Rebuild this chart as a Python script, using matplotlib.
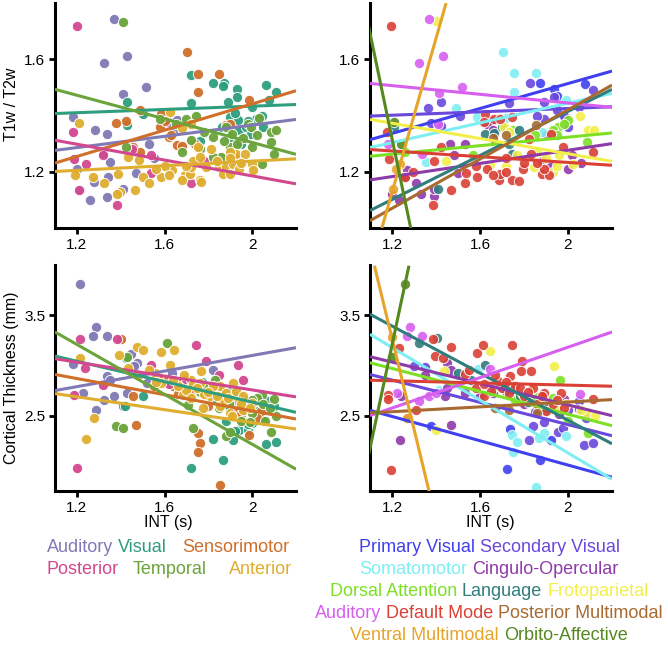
import matplotlib
matplotlib.use("Agg")
import matplotlib.pyplot as plt
import numpy as np

plt.rcParams['font.family'] = ['Liberation Sans', 'DejaVu Sans']

# ---------------- data: left panels (6 cortical groups) ----------------
GROUPS6 = ["Auditory", "Visual", "Sensorimotor", "Posterior", "Temporal", "Anterior"]
COL6 = {"Auditory": "#8079b5", "Visual": "#2e9e7e", "Sensorimotor": "#cf6f2a",
        "Posterior": "#d2488f", "Temporal": "#6aa43a", "Anterior": "#e0ae2f"}

# T1w/T2w vs INT
t1_aud_x = [1.37, 1.324, 1.427, 1.409, 1.514, 1.18, 1.283, 1.336, 1.32, 1.35, 1.344, 1.28, 1.215, 1.26, 1.336, 1.409, 1.468, 1.53, 1.617, 1.64, 1.655, 1.91, 1.55, 1.2]
t1_aud_y = [1.743, 1.586, 1.612, 1.475, 1.50, 1.393, 1.348, 1.336, 1.267, 1.235, 1.181, 1.163, 1.136, 1.10, 1.112, 1.139, 1.195, 1.298, 1.377, 1.342, 1.383, 1.24, 1.25, 1.21]
t1_vis_x = [1.723, 1.82, 1.873, 1.868, 1.93, 1.93, 2.064, 2.109, 1.723, 1.89, 1.427, 1.427, 1.503, 1.897, 1.935, 1.94, 1.97, 1.995, 2.017, 2.047, 2.076, 1.897, 1.95, 2.0, 1.76, 1.86, 1.98, 2.05, 1.92]
t1_vis_y = [1.544, 1.517, 1.514, 1.505, 1.493, 1.467, 1.508, 1.485, 1.443, 1.449, 1.449, 1.365, 1.405, 1.395, 1.383, 1.348, 1.36, 1.336, 1.389, 1.40, 1.455, 1.324, 1.30, 1.43, 1.31, 1.36, 1.38, 1.36, 1.41]
t1_sen_x = [1.703, 1.753, 1.848, 1.752, 1.985, 1.488, 1.424, 1.379, 1.455, 1.586, 1.579, 1.62, 1.655, 1.68, 1.88, 1.488, 1.63, 1.74, 1.9, 1.6]
t1_sen_y = [1.627, 1.548, 1.548, 1.485, 1.455, 1.419, 1.381, 1.374, 1.288, 1.405, 1.36, 1.324, 1.294, 1.29, 1.365, 1.27, 1.33, 1.30, 1.37, 1.38]
t1_pos_x = [1.2, 1.185, 1.18, 1.24, 1.21, 1.385, 1.32, 1.54, 1.54, 1.927, 1.94, 1.78, 1.72, 1.45]
t1_pos_y = [1.717, 1.246, 1.34, 1.226, 1.136, 1.083, 1.26, 1.195, 1.26, 1.252, 1.23, 1.24, 1.16, 1.28]
t1_tem_x = [1.409, 1.424, 1.579, 1.70, 1.745, 1.723, 1.68, 1.82, 1.88, 1.91, 1.98, 1.995, 2.085, 2.109, 2.085, 2.1, 2.047, 2.0, 1.897, 1.859, 1.82, 1.96, 1.78, 1.65, 2.03, 1.93, 2.02, 1.87, 1.76]
t1_tem_y = [1.731, 1.288, 1.386, 1.389, 1.40, 1.312, 1.27, 1.324, 1.36, 1.336, 1.371, 1.36, 1.342, 1.348, 1.306, 1.264, 1.229, 1.288, 1.288, 1.252, 1.252, 1.32, 1.34, 1.37, 1.39, 1.30, 1.33, 1.31, 1.28]
t1_ant_x = [1.208, 1.192, 1.273, 1.324, 1.389, 1.397, 1.385, 1.467, 1.435, 1.482, 1.5, 1.53, 1.586, 1.632, 1.626, 1.692, 1.68, 1.715, 1.723, 1.73, 1.753, 1.76, 1.767, 1.79, 1.812, 1.85, 1.865, 1.88, 1.897, 1.912, 1.927, 1.965, 2.0, 2.003, 1.897, 1.76, 1.723, 1.68, 1.6, 1.94, 1.84, 1.90, 1.95, 1.70, 1.62, 1.56]
t1_ant_y = [1.374, 1.19, 1.181, 1.16, 1.193, 1.127, 1.121, 1.136, 1.252, 1.243, 1.181, 1.16, 1.183, 1.205, 1.414, 1.187, 1.169, 1.193, 1.217, 1.24, 1.288, 1.169, 1.163, 1.217, 1.282, 1.217, 1.193, 1.217, 1.193, 1.229, 1.264, 1.264, 1.229, 1.207, 1.27, 1.252, 1.37, 1.354, 1.22, 1.21, 1.24, 1.25, 1.23, 1.22, 1.19, 1.21]

# Cortical thickness vs INT
ct_aud_x = [1.215, 1.288, 1.273, 1.336, 1.182, 1.227, 1.37, 1.288, 1.324, 1.336, 1.412, 1.427, 1.445, 1.473, 1.518, 1.632, 1.82, 1.35, 1.46]
ct_aud_y = [3.81, 3.387, 3.293, 3.293, 3.01, 2.727, 2.693, 2.56, 2.653, 2.893, 2.6, 2.727, 3.11, 3.027, 2.827, 2.927, 2.953, 2.86, 2.99]
ct_vis_x = [1.424, 1.5, 1.42, 1.723, 1.867, 1.821, 1.912, 1.942, 1.979, 2.064, 2.109, 2.0, 2.047, 1.88, 1.888, 2.04, 1.96, 1.92, 2.07, 1.98, 1.93, 1.84, 1.84, 1.90, 1.97, 2.02, 2.10, 1.77]
ct_vis_y = [3.077, 2.693, 2.593, 1.983, 2.06, 2.267, 2.26, 2.36, 2.353, 2.22, 2.233, 2.427, 2.46, 2.443, 2.61, 2.59, 2.45, 2.35, 2.65, 2.42, 2.62, 2.66, 2.80, 2.74, 2.66, 2.55, 2.60, 2.84]
ct_sen_x = [1.4, 1.47, 1.458, 1.852, 1.76, 1.753, 1.753, 1.985, 1.64, 1.60, 1.57, 1.68, 1.55, 1.93, 1.72, 1.88, 1.98, 2.04, 1.80, 1.86, 1.95, 2.02, 1.66]
ct_sen_y = [3.267, 2.41, 2.693, 1.81, 2.227, 2.327, 2.143, 2.31, 2.793, 2.85, 2.88, 2.83, 2.80, 2.55, 2.75, 2.70, 2.60, 2.55, 2.60, 2.64, 2.52, 2.48, 2.72]
ct_pos_x = [1.2, 1.212, 1.185, 1.238, 1.321, 1.382, 1.536, 1.745, 1.791, 1.935, 1.958, 1.62, 1.70, 1.85]
ct_pos_y = [1.977, 3.26, 2.71, 2.977, 2.81, 3.267, 3.0, 3.2, 3.043, 3.0, 2.86, 2.82, 2.87, 2.90]
ct_tem_x = [1.609, 1.379, 1.409, 1.708, 1.73, 1.88, 1.897, 2.086, 2.1, 2.109, 2.047, 2.0, 1.806, 1.95, 1.94, 1.99, 2.06, 1.85, 1.43, 1.76, 1.90, 2.02, 1.78, 1.86, 1.92, 2.0, 2.05, 2.08, 1.83, 1.74]
ct_tem_y = [3.22, 2.4, 2.377, 2.61, 2.377, 2.293, 2.333, 2.333, 2.667, 2.493, 2.71, 2.527, 2.793, 2.45, 2.70, 2.44, 2.45, 2.58, 3.08, 2.74, 2.64, 2.68, 2.78, 2.74, 2.70, 2.66, 2.62, 2.58, 2.86, 2.82]
ct_ant_x = [1.242, 1.279, 1.212, 1.394, 1.473, 1.5, 1.586, 1.642, 1.435, 1.556, 1.586, 1.627, 1.685, 1.723, 1.73, 1.768, 1.76, 1.776, 1.806, 1.852, 1.852, 1.88, 1.912, 1.927, 1.897, 1.91, 1.958, 2.0, 1.96, 1.70, 1.82, 1.66, 1.48, 1.53, 1.78, 1.87, 1.94, 1.75, 1.80, 1.84, 1.89, 1.95, 1.99, 1.72, 1.64, 1.69, 1.56]
ct_ant_y = [2.267, 2.477, 3.077, 3.1, 3.187, 3.153, 3.133, 3.153, 2.977, 2.927, 2.827, 3.0, 2.71, 2.86, 2.82, 2.943, 2.83, 2.577, 2.693, 2.793, 2.593, 2.727, 2.827, 2.743, 2.527, 2.50, 2.693, 2.627, 2.56, 2.76, 2.80, 2.80, 2.90, 2.95, 2.72, 2.66, 2.64, 2.78, 2.74, 2.70, 2.68, 2.62, 2.58, 2.68, 2.86, 2.90, 2.84]

# fitted lines of the left panels: value at INT = 1.1 and INT = 2.2
t1_fit6_start = [1.276, 1.407, 1.231, 1.312, 1.493, 1.201]
t1_fit6_end = [1.386, 1.439, 1.488, 1.157, 1.262, 1.246]
ct_fit6_start = [2.75, 3.093, 2.91, 3.067, 3.333, 2.72]
ct_fit6_end = [3.177, 2.533, 2.467, 2.687, 1.967, 2.367]

# ---------------- data: right panels (12 networks) ----------------
NETS = ["Primary Visual", "Secondary Visual", "Somatomotor", "Cingulo-Opercular",
        "Dorsal Attention", "Language", "Frotoparietal", "Auditory", "Default Mode",
        "Posterior Multimodal", "Ventral Multimodal", "Orbito-Affective"]
COL12 = {"Primary Visual": "#4040f0", "Secondary Visual": "#6a48dc", "Somatomotor": "#7eeef2",
         "Cingulo-Opercular": "#8e3aa8", "Dorsal Attention": "#7de024", "Language": "#2f7d7d",
         "Frotoparietal": "#f2ef4a", "Auditory": "#d75ff0", "Default Mode": "#db4035",
         "Posterior Multimodal": "#a86a30", "Ventral Multimodal": "#e6a52a", "Orbito-Affective": "#55881f"}

t1n_x = {
    "Primary Visual": [1.874, 1.938, 2.077, 1.95],
    "Secondary Visual": [1.828, 1.938, 2.115, 1.731, 1.892, 1.362, 1.423, 1.377, 1.423, 1.508, 1.985, 1.892, 1.95, 2.05, 1.65, 1.90, 2.0, 1.98, 1.86],
    "Somatomotor": [1.705, 1.754, 1.854, 1.754, 1.992, 1.489, 1.585, 1.354, 1.88, 1.72],
    "Cingulo-Opercular": [1.269, 1.26, 1.33, 1.31, 1.392, 1.462, 1.5, 1.531, 1.48, 1.63, 1.66, 1.92, 2.06, 2.0, 1.2, 1.23, 1.39, 1.88, 2.02],
    "Dorsal Attention": [1.954, 2.0, 1.98, 2.085, 1.75, 1.85, 1.93, 1.26, 1.57, 1.95],
    "Language": [1.623, 1.662, 1.777, 1.746, 1.408, 1.70, 1.73, 1.21],
    "Frotoparietal": [1.4, 1.708, 1.73, 1.846, 1.93, 2.023, 2.092, 2.12, 2.054, 1.446, 1.646, 1.96, 1.86, 1.72, 1.77, 1.90, 1.95],
    "Auditory": [1.369, 1.323, 1.431, 1.412, 1.518, 1.338, 1.18, 1.41],
    "Default Mode": [1.197, 1.177, 1.185, 1.26, 1.295, 1.385, 1.392, 1.469, 1.531, 1.538, 1.585, 1.631, 1.685, 1.692, 1.746, 1.777, 1.797, 1.831, 1.88, 1.915, 1.892, 1.923, 1.977, 2.115, 1.623, 1.618, 1.662, 1.69, 1.746, 1.423, 1.823, 1.72, 1.86, 1.72, 1.80, 1.66, 1.58],
    "Posterior Multimodal": [1.854, 1.66, 1.72],
    "Ventral Multimodal": [1.203, 1.238, 1.22],
    "Orbito-Affective": [1.208, 1.24],
}
t1n_y = {
    "Primary Visual": [1.517, 1.493, 1.512, 1.47],
    "Secondary Visual": [1.517, 1.467, 1.49, 1.445, 1.449, 1.425, 1.449, 1.374, 1.362, 1.40, 1.389, 1.386, 1.42, 1.43, 1.38, 1.33, 1.36, 1.40, 1.40],
    "Somatomotor": [1.627, 1.55, 1.55, 1.485, 1.455, 1.425, 1.395, 1.235, 1.34, 1.39],
    "Cingulo-Opercular": [1.205, 1.18, 1.121, 1.16, 1.115, 1.30, 1.195, 1.30, 1.26, 1.37, 1.35, 1.22, 1.23, 1.21, 1.12, 1.10, 1.14, 1.24, 1.26],
    "Dorsal Attention": [1.36, 1.383, 1.37, 1.306, 1.35, 1.33, 1.35, 1.27, 1.26, 1.33],
    "Language": [1.336, 1.338, 1.348, 1.264, 1.139, 1.36, 1.30, 1.36],
    "Frotoparietal": [1.735, 1.36, 1.34, 1.217, 1.199, 1.229, 1.348, 1.35, 1.399, 1.24, 1.223, 1.26, 1.27, 1.22, 1.26, 1.25, 1.22],
    "Auditory": [1.743, 1.588, 1.612, 1.479, 1.502, 1.262, 1.30, 1.37],
    "Default Mode": [1.717, 1.342, 1.246, 1.181, 1.199, 1.083, 1.24, 1.136, 1.16, 1.195, 1.181, 1.211, 1.171, 1.193, 1.169, 1.167, 1.211, 1.264, 1.193, 1.187, 1.211, 1.336, 1.288, 1.27, 1.407, 1.377, 1.386, 1.389, 1.395, 1.288, 1.318, 1.25, 1.23, 1.20, 1.23, 1.19, 1.22],
    "Posterior Multimodal": [1.365, 1.32, 1.33],
    "Ventral Multimodal": [1.139, 1.229, 1.21],
    "Orbito-Affective": [1.377, 1.30],
}

ctn_x = {
    "Primary Visual": [1.723, 1.738, 1.874, 1.377, 1.923],
    "Secondary Visual": [1.823, 1.954, 2.074, 2.115, 1.892, 1.977, 1.84, 2.05, 1.30, 1.35, 1.85, 2.0, 2.08],
    "Somatomotor": [1.415, 1.592, 1.746, 1.751, 1.769, 1.854, 1.869, 1.892, 1.992, 1.50],
    "Cingulo-Opercular": [1.469, 1.238, 1.45, 1.47, 1.44, 1.53, 1.35, 1.60, 1.66, 1.98, 2.05, 1.45, 1.24, 1.74, 1.80, 1.90, 1.96],
    "Dorsal Attention": [1.962, 2.092, 2.0, 1.96, 1.76, 1.85, 1.88, 1.93],
    "Language": [1.403, 1.323, 1.5, 1.623, 1.72, 1.78, 1.56, 1.90, 1.82, 1.68],
    "Frotoparietal": [1.646, 1.938, 1.4, 1.438, 2.085, 2.123, 1.88, 1.95, 1.79, 1.83, 1.99, 2.06],
    "Auditory": [1.28, 1.269, 1.338, 1.223, 1.369, 1.323, 1.646, 2.054, 1.40],
    "Default Mode": [1.197, 1.182, 1.18, 1.231, 1.385, 1.397, 1.431, 1.469, 1.531, 1.585, 1.615, 1.746, 1.792, 1.785, 1.831, 1.738, 1.892, 1.969, 2.115, 1.311, 1.274, 1.62, 1.70, 1.68, 1.76, 1.80, 1.86, 1.90, 1.65, 1.73, 1.84, 1.55, 1.93, 1.58, 1.62, 1.67, 1.72, 1.78, 1.82, 1.88, 1.95, 1.98],
    "Posterior Multimodal": [1.73, 1.86, 1.67],
    "Ventral Multimodal": [1.20, 1.27],
    "Orbito-Affective": [1.258, 1.20],
}
ctn_y = {
    "Primary Visual": [1.973, 2.367, 2.06, 2.393, 2.253],
    "Secondary Visual": [2.26, 2.333, 2.21, 2.227, 2.433, 2.377, 2.40, 2.65, 2.99, 2.98, 2.54, 2.56, 2.48],
    "Somatomotor": [2.76, 2.96, 2.31, 2.143, 2.233, 1.793, 2.277, 2.327, 2.293, 2.90],
    "Cingulo-Opercular": [2.403, 2.26, 3.02, 2.95, 2.70, 2.73, 2.90, 2.70, 2.73, 2.67, 2.57, 2.78, 2.70, 2.76, 2.62, 2.56, 2.52],
    "Dorsal Attention": [2.853, 2.327, 2.443, 2.62, 2.66, 2.69, 2.60, 2.68],
    "Language": [3.277, 3.227, 2.927, 3.0, 2.75, 2.70, 2.86, 2.58, 2.64, 2.80],
    "Frotoparietal": [3.143, 2.993, 2.36, 2.943, 2.527, 2.493, 2.66, 2.57, 2.73, 2.76, 2.62, 2.56],
    "Auditory": [3.387, 3.293, 3.293, 2.727, 2.693, 2.643, 2.96, 2.72, 2.73],
    "Default Mode": [1.96, 2.71, 2.67, 3.177, 3.267, 3.093, 3.077, 3.187, 2.91, 3.127, 3.2, 3.2, 3.043, 2.943, 2.943, 2.893, 2.727, 2.727, 2.667, 2.553, 2.477, 2.70, 2.78, 2.85, 2.80, 2.70, 2.62, 2.55, 2.75, 2.73, 2.78, 2.95, 2.62, 2.78, 2.82, 2.90, 2.84, 2.78, 2.74, 2.70, 2.66, 2.58],
    "Posterior Multimodal": [2.56, 2.53, 2.58],
    "Ventral Multimodal": [3.28, 2.48],
    "Orbito-Affective": [3.81, 3.08],
}

# fitted lines of the right panels: (x0, y0, x1, y1) endpoints
t1_fit12 = {
    "Primary Visual": (1.1, 1.314, 2.2, 1.558),
    "Secondary Visual": (1.1, 1.398, 2.2, 1.431),
    "Somatomotor": (1.1, 1.286, 2.2, 1.479),
    "Cingulo-Opercular": (1.1, 1.171, 2.2, 1.30),
    "Dorsal Attention": (1.1, 1.255, 2.2, 1.338),
    "Language": (1.1, 1.062, 2.2, 1.493),
    "Frotoparietal": (1.1, 1.386, 2.2, 1.237),
    "Auditory": (1.1, 1.514, 2.2, 1.429),
    "Default Mode": (1.1, 1.279, 2.2, 1.223),
    "Posterior Multimodal": (1.1, 1.026, 2.2, 1.508),
    "Ventral Multimodal": (1.154, 1.0, 1.446, 1.8),
    "Orbito-Affective": (1.092, 1.723, 1.285, 1.0),
}
ct_fit12 = {
    "Primary Visual": (1.1, 2.553, 2.2, 1.887),
    "Secondary Visual": (1.1, 2.91, 2.2, 2.30),
    "Somatomotor": (1.1, 3.31, 2.2, 1.867),
    "Cingulo-Opercular": (1.1, 3.087, 2.2, 2.50),
    "Dorsal Attention": (1.1, 3.027, 2.2, 2.40),
    "Language": (1.1, 3.51, 2.2, 2.22),
    "Frotoparietal": (1.1, 2.853, 2.2, 2.853),
    "Auditory": (1.1, 2.50, 2.2, 3.333),
    "Default Mode": (1.1, 2.853, 2.2, 2.793),
    "Posterior Multimodal": (1.1, 2.527, 2.2, 2.66),
    "Ventral Multimodal": (1.12, 3.993, 1.369, 1.743),
    "Orbito-Affective": (1.092, 2.093, 1.277, 3.993),
}
ct_fit12_draw = [n for n in NETS if n != "Frotoparietal"]

XTICKS = [1.2, 1.6, 2.0]
XTICKLABELS = ["1.2", "1.6", "2"]
T1_TICKS = [1.2, 1.6]
CT_TICKS = [2.5, 3.5]

# ---------------- figure ----------------
W, H = 668, 648
fig = plt.figure(figsize=(W / 100, H / 100), dpi=100)


def ax_at(l, t, r, b):
    return fig.add_axes([l / W, 1 - b / H, (r - l) / W, (b - t) / H])


def style(ax, ylim, yticks):
    ax.set_xlim(1.1, 2.2)
    ax.set_ylim(*ylim)
    for s in ["top", "right"]:
        ax.spines[s].set_visible(False)
    for s in ["left", "bottom"]:
        ax.spines[s].set_linewidth(2.2)
    ax.set_xticks(XTICKS)
    ax.set_xticklabels(XTICKLABELS)
    ax.set_yticks(yticks)
    ax.set_yticklabels([("%g" % v) for v in yticks])
    ax.tick_params(direction="out", length=4, width=2, labelsize=11, pad=3)


ax_tl = ax_at(55, 3, 296, 228)
ax_tr = ax_at(370, 3, 612, 228)
ax_bl = ax_at(55, 265, 296, 491)
ax_br = ax_at(370, 265, 612, 491)

MS = 55
left_t1 = {"Auditory": (t1_aud_x, t1_aud_y), "Visual": (t1_vis_x, t1_vis_y),
           "Sensorimotor": (t1_sen_x, t1_sen_y), "Posterior": (t1_pos_x, t1_pos_y),
           "Temporal": (t1_tem_x, t1_tem_y), "Anterior": (t1_ant_x, t1_ant_y)}
left_ct = {"Auditory": (ct_aud_x, ct_aud_y), "Visual": (ct_vis_x, ct_vis_y),
           "Sensorimotor": (ct_sen_x, ct_sen_y), "Posterior": (ct_pos_x, ct_pos_y),
           "Temporal": (ct_tem_x, ct_tem_y), "Anterior": (ct_ant_x, ct_ant_y)}

for ax, pts, fs, fe in [(ax_tl, left_t1, t1_fit6_start, t1_fit6_end),
                        (ax_bl, left_ct, ct_fit6_start, ct_fit6_end)]:
    for g in GROUPS6:
        x, y = pts[g]
        ax.scatter(x, y, s=MS, color=COL6[g], edgecolors="white", linewidths=0.7, alpha=0.95, zorder=2)
    for i, g in enumerate(GROUPS6):
        ax.plot([1.1, 2.2], [fs[i], fe[i]], color=COL6[g], lw=2.2, zorder=3, solid_capstyle="butt")

for ax, px, py, fits, draw in [(ax_tr, t1n_x, t1n_y, t1_fit12, NETS),
                               (ax_br, ctn_x, ctn_y, ct_fit12, ct_fit12_draw)]:
    for n in NETS:
        ax.scatter(px[n], py[n], s=MS, color=COL12[n], edgecolors="white", linewidths=0.7, alpha=0.9, zorder=2)
    for n in draw:
        x0, y0, x1, y1 = fits[n]
        ax.plot([x0, x1], [y0, y1], color=COL12[n], lw=2.2, zorder=3, solid_capstyle="butt")

style(ax_tl, (1.0, 1.8), T1_TICKS)
style(ax_tr, (1.0, 1.8), T1_TICKS)
style(ax_bl, (1.75, 4.0), CT_TICKS)
style(ax_br, (1.75, 4.0), CT_TICKS)

fig.text(12 / W, 1 - 104 / H, "T1w / T2w", rotation=90, ha="center", va="center", fontsize=11.5)
fig.text(12 / W, 1 - 378 / H, "Cortical Thickness (mm)", rotation=90, ha="center", va="center", fontsize=11.5)
fig.text(168 / W, 1 - 522 / H, "INT (s)", ha="center", va="center", fontsize=11.5)
fig.text(490 / W, 1 - 522 / H, "INT (s)", ha="center", va="center", fontsize=11.5)

# ---------------- colored text legends ----------------
left_rows = [[("Auditory", 47), ("Visual", 118), ("Sensorimotor", 182)],
             [("Posterior", 47), ("Temporal", 133), ("Anterior", 229)]]
left_row_y = [548, 570]
for row, yy in zip(left_rows, left_row_y):
    for word, xx in row:
        fig.text(xx / W, 1 - yy / H, word, color=COL6[word], ha="left", va="center", fontsize=13)

right_rows = [["Primary Visual", "Secondary Visual"],
              ["Somatomotor", "Cingulo-Opercular"],
              ["Dorsal Attention", "Language", "Frotoparietal"],
              ["Auditory", "Default Mode", "Posterior Multimodal"],
              ["Ventral Multimodal", "Orbito-Affective"]]
right_row_y = [548, 570, 592, 614, 636]
renderer = fig.canvas.get_renderer()
space_px = 5.0
for row, yy in zip(right_rows, right_row_y):
    texts = [fig.text(0, 1 - yy / H, n, color=COL12[n], ha="left", va="center", fontsize=13) for n in row]
    widths = [t.get_window_extent(renderer).width for t in texts]
    total = sum(widths) + space_px * (len(row) - 1)
    x = 489 - total / 2
    for t, w in zip(texts, widths):
        t.set_x(x / W)
        x += w + space_px

fig.savefig("out.png", dpi=100)
